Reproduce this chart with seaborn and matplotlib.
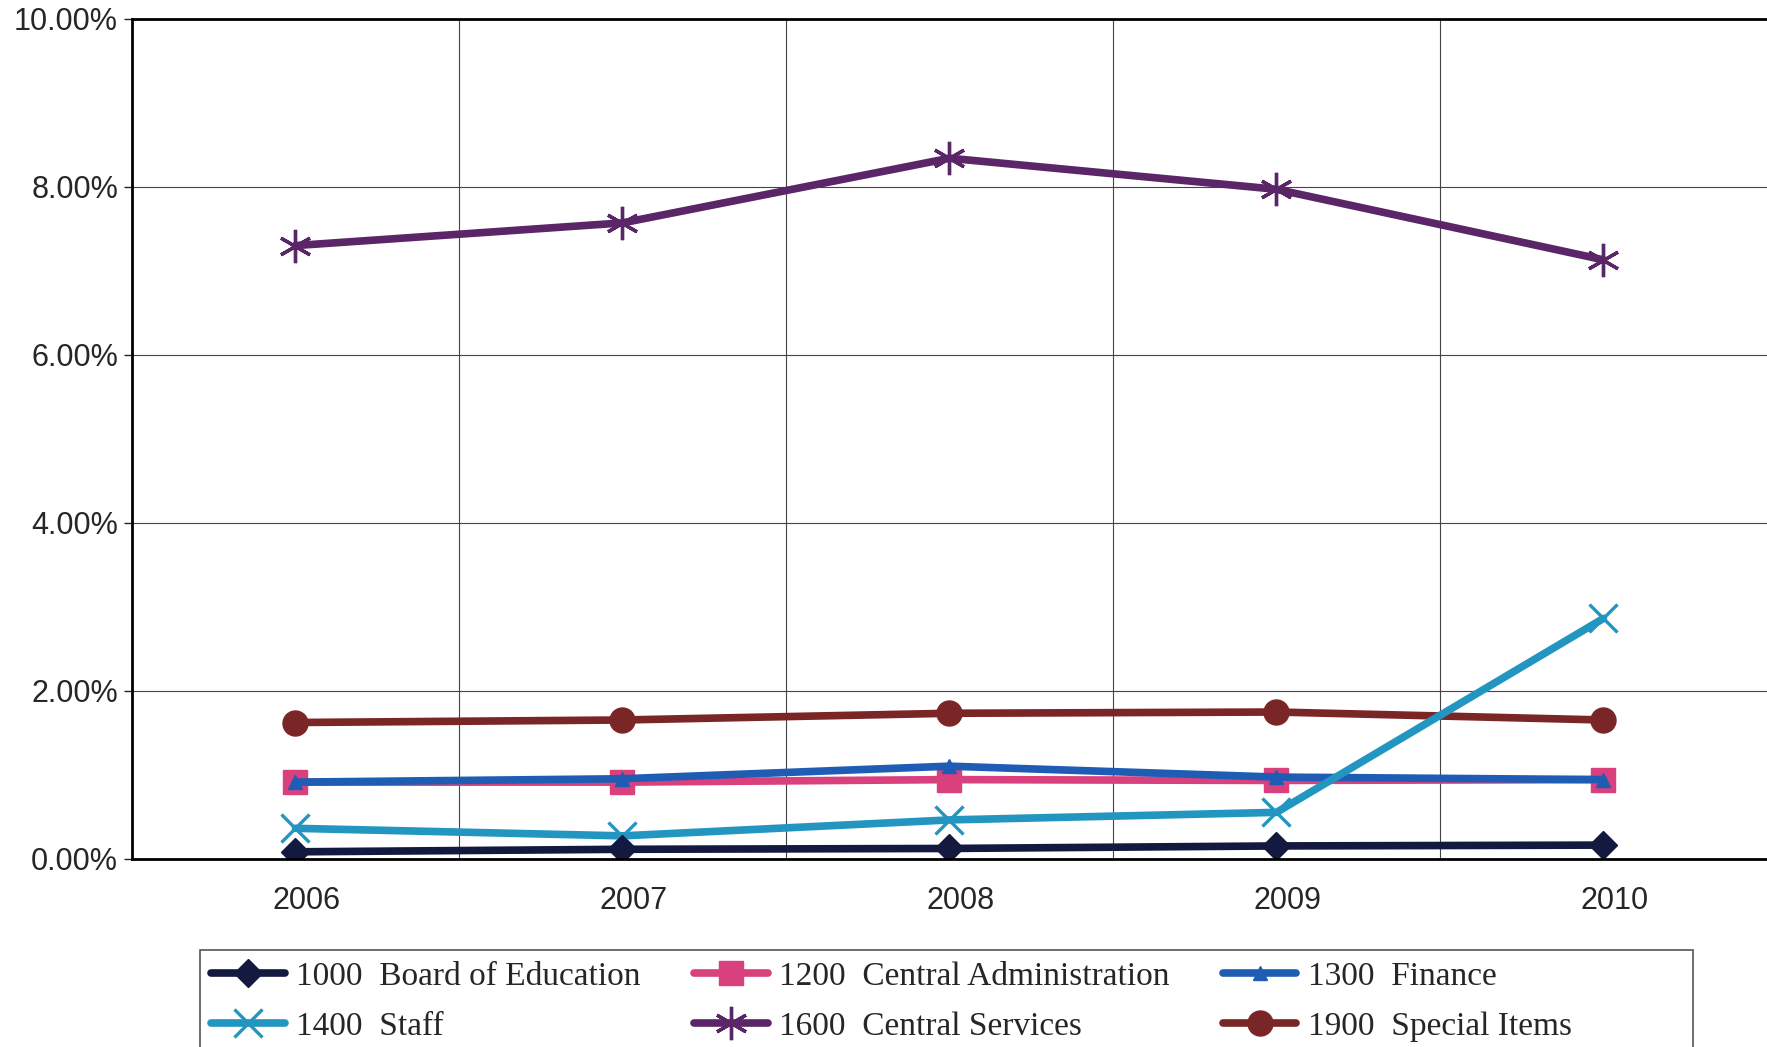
import seaborn as sns
import matplotlib.pyplot as plt
import matplotlib.transforms as mtransforms
from matplotlib.patches import Rectangle
import pandas as pd
from matplotlib.ticker import PercentFormatter, MultipleLocator

years = ["2006", "2007", "2008", "2009", "2010"]

board_of_education = [0.08, 0.11, 0.12, 0.15, 0.16]
central_admin = [0.91, 0.91, 0.94, 0.93, 0.94]
finance = [0.91, 0.95, 1.10, 0.97, 0.94]
staff = [0.36, 0.27, 0.46, 0.55, 2.86]
central_services = [7.30, 7.57, 8.34, 7.97, 7.13]
special_items = [1.62, 1.65, 1.73, 1.745, 1.65]

series = [
    ("1900  Special Items", special_items, "#7b2626", "o", 18),
    ("1600  Central Services", central_services, "#5b2667", (6, 2, 0), 24),
    ("1200  Central Administration", central_admin, "#d8407e", "s", 17),
    ("1300  Finance", finance, "#1f5db4", "^", 10),
    ("1400  Staff", staff, "#2296c0", "x", 20),
    ("1000  Board of Education", board_of_education, "#14193f", "D", 14),
]
legend_order = [
    "1000  Board of Education", "1400  Staff",
    "1200  Central Administration", "1600  Central Services",
    "1300  Finance", "1900  Special Items",
]

sns.set_style("white")
plt.rcParams["font.family"] = ["Liberation Sans", "DejaVu Sans"]

fig = plt.figure(figsize=(17.67, 10.47), dpi=100)
ax = fig.add_axes([0.0747, 0.180, 0.9253, 0.802])

handles = {}
for name, vals, color, marker, ms in series:
    df = pd.DataFrame({"x": range(len(years)), "y": vals})
    sns.lineplot(data=df, x="x", y="y", ax=ax, color=color, linewidth=5.5,
                 marker=marker, markersize=ms, markeredgecolor=color,
                 markeredgewidth=2.4 if marker in ("x", (6, 2, 0)) else 1)
    handles[name] = ax.get_lines()[-1]

ax.set_xlim(-0.5, 4.5)
ax.set_ylim(0, 10)
ax.yaxis.set_major_locator(MultipleLocator(2))
ax.yaxis.set_major_formatter(PercentFormatter(decimals=2))
ax.set_xticks(range(len(years)))
ax.set_xticklabels(years)
ax.set_xticks([0.5, 1.5, 2.5, 3.5], minor=True)
ax.set_xlabel("")
ax.set_ylabel("")

ax.grid(axis="y", which="major", color="#444444", linewidth=0.8)
ax.grid(axis="x", which="minor", color="#444444", linewidth=0.8)
ax.tick_params(axis="x", which="both", length=0, labelsize=22, pad=20)
ax.tick_params(axis="y", length=6, width=1, labelsize=22, left=True, pad=4)

# year labels sit a little right of the points in the original
shift = mtransforms.ScaledTranslation(0.11, 0, fig.dpi_scale_trans)
for lbl in ax.get_xticklabels():
    lbl.set_transform(lbl.get_transform() + shift)

for side in ["left", "bottom", "top"]:
    ax.spines[side].set_color("black")
    ax.spines[side].set_linewidth(2)
ax.spines["right"].set_visible(False)

# legend box runs off the bottom of the page in the original
fig.patches.append(Rectangle((0.113, -0.02), 0.845, 0.1126, transform=fig.transFigure,
                             fill=False, edgecolor="#555555", linewidth=1.2))
fig.legend(
    [handles[n] for n in legend_order], legend_order,
    loc="upper left", bbox_to_anchor=(0.113, 0.093),
    ncol=3, frameon=False, handlelength=2.2, handletextpad=0.35,
    columnspacing=1.6, labelspacing=0.58, borderaxespad=0, borderpad=0.35,
    prop={"family": "Liberation Serif", "size": 24},
)

fig.savefig("out.png", dpi=100, facecolor="white")
